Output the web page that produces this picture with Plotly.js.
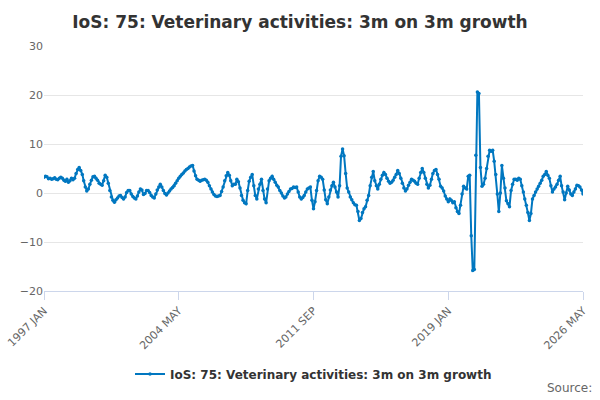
<!DOCTYPE html>
<html>
<head>
<meta charset="utf-8">
<script src="https://cdn.plot.ly/plotly-3.0.1.min.js"></script>
<style>body{margin:0}#graph{width:600px;height:400px}</style>
</head>
<body>
<div id="graph"></div>
<script>
// monthly values, 1997 JAN .. 2026 MAY
const startYear = 1997;
const values = [
    3.2,3.4,3.3,2.9,3.0,2.8,2.9,3.1,2.8,2.7,3.0,3.2,
    3.0,2.6,2.4,2.8,2.2,2.5,3.0,2.7,3.0,4.0,4.8,5.2,
    4.6,3.8,2.5,1.2,0.4,0.8,1.8,2.6,3.3,3.4,3.0,2.6,
    2.0,1.8,1.6,2.5,3.6,3.2,2.0,0.5,-0.8,-1.5,-1.9,-1.4,
    -1.0,-0.6,-0.5,-0.9,-1.2,-0.8,0.1,0.5,0.5,-0.2,-0.7,-1.0,
    -1.2,-0.6,0.2,0.8,0.6,-0.3,-0.1,0.5,0.5,0.1,-0.5,-0.8,
    -1.0,-0.2,0.6,1.2,1.8,1.2,0.5,-0.1,-0.4,0.0,0.4,0.8,
    1.1,1.5,2.0,2.5,3.0,3.4,3.8,4.1,4.5,4.8,5.0,5.3,
    5.5,5.6,4.5,3.5,2.8,2.6,2.4,2.6,2.7,2.8,2.6,2.2,
    1.5,0.8,0.2,-0.3,-0.6,-0.7,-0.6,-0.5,0.3,1.2,2.5,3.5,
    4.2,3.6,2.5,1.5,1.8,1.8,2.8,2.3,1.0,-0.5,-1.5,-2.0,
    -2.2,0.5,2.4,3.2,3.8,1.5,-0.5,-1.2,0.8,1.8,2.8,0.5,
    -1.2,-2.0,0.8,2.5,3.0,3.4,2.8,2.2,1.6,1.2,0.5,0.0,
    -0.6,-1.0,-0.8,-0.2,0.3,0.8,0.9,1.2,1.1,1.2,0.2,-0.8,
    -1.2,-0.9,-0.5,0.2,0.8,1.0,1.2,-1.5,-3.2,-1.8,0.5,2.5,
    3.4,3.2,2.8,0.6,-1.4,-2.2,-0.8,0.6,1.5,2.2,1.2,0.2,
    -0.8,1.5,7.5,9.0,7.6,4.0,1.0,0.2,-0.8,-1.4,-2.0,-2.4,
    -2.5,-3.8,-5.6,-5.2,-4.0,-3.2,-2.8,-1.5,-0.5,1.5,3.2,4.4,
    2.5,1.5,0.8,1.8,2.8,3.6,4.2,3.8,3.0,2.4,2.0,2.2,
    2.6,3.2,3.8,4.6,4.0,3.0,2.0,1.0,0.4,0.8,1.6,2.2,
    2.8,2.6,2.4,2.0,1.8,3.0,4.2,5.0,4.2,3.0,1.8,1.0,
    1.6,2.8,4.0,4.6,4.8,3.8,2.8,1.4,1.0,0.4,-0.6,-1.2,
    -1.8,-1.2,-1.5,-2.0,-1.8,-3.0,-3.8,-4.2,-2.5,-0.2,1.4,1.0,
    0.8,3.4,3.6,-8.7,-15.8,-15.6,7.7,20.6,20.3,5.2,1.4,1.8,
    3.0,5.0,7.5,8.7,8.5,8.7,6.5,3.8,-0.2,-3.8,0.0,5.6,
    3.0,1.0,-1.6,-2.2,-2.8,0.5,1.8,2.8,2.8,2.6,3.0,2.8,
    1.5,0.2,-1.2,-2.5,-4.0,-5.6,-4.2,-1.2,-0.5,0.2,0.8,1.4,
    2.0,2.6,3.4,3.8,4.4,3.6,3.0,1.5,0.2,0.8,1.2,1.8,
    2.6,3.4,1.5,0.2,-1.4,0.0,1.4,0.6,-0.2,-0.5,0.2,0.8,
    1.6,1.5,1.2,0.6,-0.2
];
const tickVals = ["1997-01-01", "2004-05-01", "2011-09-01", "2019-01-01", "2026-05-01"];
const tickText = ["1997 JAN", "2004 MAY", "2011 SEP", "2019 JAN", "2026 MAY"];

function graph() {
    let dates = [];
    for (var i = 0; i < values.length; i++) {
        let y = startYear + Math.floor(i / 12);
        let m = (i % 12) + 1;
        dates.push(y + "-" + (m < 10 ? "0" + m : m) + "-01");
    }
    let trace1 = {
        x: dates,
        y: values,
        type: "scatter",
        mode: "lines+markers",
        name: "<b>IoS: 75: Veterinary activities: 3m on 3m growth</b>",
        line: { color: "#0077c0", width: 2 },
        marker: { color: "#0077c0", size: 3.5 },
        hoverinfo: "skip",
    };
    let layout = {
        title: {
            text: "IoS: 75: Veterinary activities: 3m on 3m growth",
            font: { family: "DejaVu Sans", size: 17, color: "#333", weight: 600 },
            x: 0.5, y: 0.96,
        },
        font: { family: "DejaVu Sans", color: "#666" },
        xaxis: {
            type: "date",
            range: ["1997-01-01", "2026-05-01"],
            tickvals: tickVals,
            ticktext: tickText,
            tickangle: -45,
            ticks: "outside",
            ticklen: 8,
            tickcolor: "#ccd6eb",
            showgrid: false,
            showline: true,
            linecolor: "#ccd6eb",
            automargin: false,
            tickfont: { size: 11, color: "#666" },
            fixedrange: true,
        },
        yaxis: {
            range: [-20, 30],
            dtick: 10,
            showgrid: true,
            gridcolor: "#e6e6e6",
            zeroline: false,
            automargin: false,
            tickfont: { size: 11, color: "#666" },
            fixedrange: true,
        },
        margin: { l: 44, r: 17, t: 46, b: 107 },
        width: 600,
        height: 400,
        showlegend: true,
        legend: {
            orientation: "h", x: 0.5, xanchor: "center", y: -0.28, yanchor: "top",
            font: { size: 12, color: "#333", family: "DejaVu Sans" },
        },
        annotations: [{
            text: "Source:", xref: "paper", yref: "paper", x: 1.02, y: -0.36,
            xanchor: "right", yanchor: "top", showarrow: false,
            font: { size: 12, color: "#666" },
        }],
        plot_bgcolor: "#fff",
        paper_bgcolor: "#fff",
    };
    Plotly.newPlot("graph", [trace1], layout, { displayModeBar: false });
}

graph();
</script>
</body>
</html>
